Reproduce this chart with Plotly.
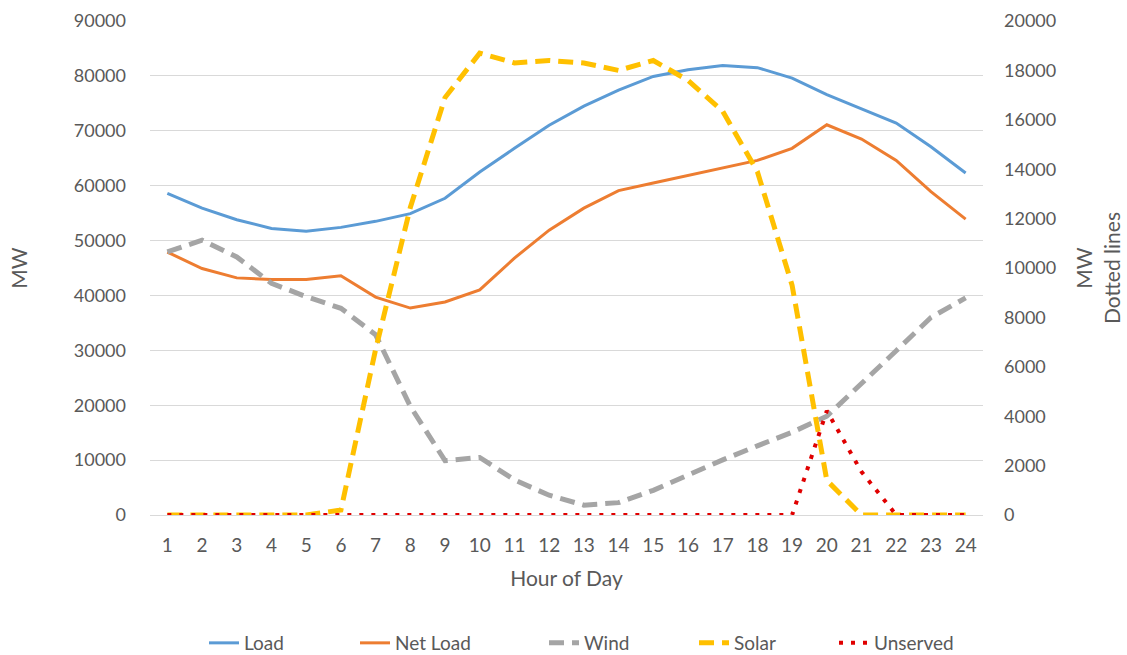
import plotly.graph_objects as go

# Hourly values for one day (MW)
hours = list(range(1, 25))
hour_labels = [str(h) for h in hours]

load = [58600, 55900, 53800, 52200, 51700, 52400, 53500, 54900, 57700, 62500,
        66800, 71000, 74500, 77400, 79900, 81100, 81900, 81500, 79600, 76600,
        74000, 71400, 67100, 62300]
net_load = [47900, 44900, 43200, 42900, 42900, 43600, 39700, 37700, 38800, 41000,
            46800, 51900, 55900, 59100, 60500, 61900, 63200, 64600, 66800, 71100,
            68500, 64600, 58900, 53900]
wind = [10650, 11130, 10450, 9380, 8840, 8370, 7300, 4400, 2200, 2330,
        1420, 800, 400, 500, 1000, 1620, 2230, 2800, 3350, 4000,
        5300, 6650, 8000, 8790]
solar = [0, 0, 0, 0, 0, 200, 6700, 12450, 16900, 18700,
         18300, 18400, 18300, 18000, 18400, 17600, 16350, 13900, 9300, 1400,
         0, 0, 0, 0]
unserved = [0, 0, 0, 0, 0, 0, 0, 0, 0, 0,
            0, 0, 0, 0, 0, 0, 0, 0, 0, 4220,
            1750, 0, 0, 0]

left_ticks = list(range(0, 90001, 10000))
left_labels = [str(v) for v in left_ticks]
right_ticks = list(range(0, 20001, 2000))
right_labels = [str(v) for v in right_ticks]

FONT = "Lato, 'Open Sans', sans-serif"
TEXT = "#595959"
GRID = "#D9D9D9"

# series: name, values, axis, line style, legend id, legend left edge (px)
series = [
    ("Load", load, "y", dict(color="#5B9BD5", width=3), "legend", 204),
    ("Net Load", net_load, "y", dict(color="#ED7D31", width=3), "legend2", 355),
    ("Wind", wind, "y2", dict(color="#A5A5A5", width=5, dash="15px,8px"), "legend3", 544),
    ("Solar", solar, "y2", dict(color="#FFC000", width=5, dash="15px,8px"), "legend4", 694),
    ("Unserved", unserved, "y2", dict(color="#E00000", width=4, dash="4px,8px"), "legend5", 834),
]

W, H = 1127, 655
fig = go.Figure()
legends = {}
for name, vals, axis, line, leg, left_px in series:
    fig.add_trace(go.Scatter(x=hours, y=vals, name=name, mode="lines",
                             line=line, yaxis=axis, legend=leg))
    legends[leg] = dict(orientation="h", xref="container", yref="container",
                        x=left_px / W, xanchor="left", y=1 - 643 / H, yanchor="middle",
                        bgcolor="rgba(0,0,0,0)",
                        font=dict(family=FONT, size=19, color=TEXT))

fig.update_layout(
    width=W, height=H,
    margin=dict(l=150, r=144, t=21, b=140, autoexpand=False),
    paper_bgcolor="white", plot_bgcolor="white",
    font=dict(family=FONT, size=18, color=TEXT),
    showlegend=True,
    **legends,
    xaxis=dict(range=[0.5, 24.5], tickmode="array", tickvals=hours, ticktext=hour_labels,
               showgrid=False, zeroline=False, showline=False, ticks="",
               ticklabelstandoff=17, automargin=False,
               tickfont=dict(family=FONT, size=19, color=TEXT),
               title=dict(text="Hour of Day", standoff=16,
                          font=dict(family=FONT, size=21, color=TEXT))),
    yaxis=dict(range=[0, 90000], tickmode="array", tickvals=left_ticks, ticktext=left_labels,
               showgrid=True, gridcolor=GRID, gridwidth=1,
               zeroline=True, zerolinecolor=GRID, zerolinewidth=1,
               showline=False, ticks="", ticklabelstandoff=23, automargin=False,
               title=dict(text="MW", standoff=40,
                          font=dict(family=FONT, size=21, color=TEXT))),
    yaxis2=dict(range=[0, 20000], tickmode="array", tickvals=right_ticks, ticktext=right_labels,
                overlaying="y", side="right", showgrid=False, zeroline=False,
                showline=False, ticks="", ticklabelstandoff=20, automargin=False,
                title=dict(text="MW<br>Dotted lines", standoff=22,
                           font=dict(family=FONT, size=21, color=TEXT))),
)

fig.write_html("out.html")
